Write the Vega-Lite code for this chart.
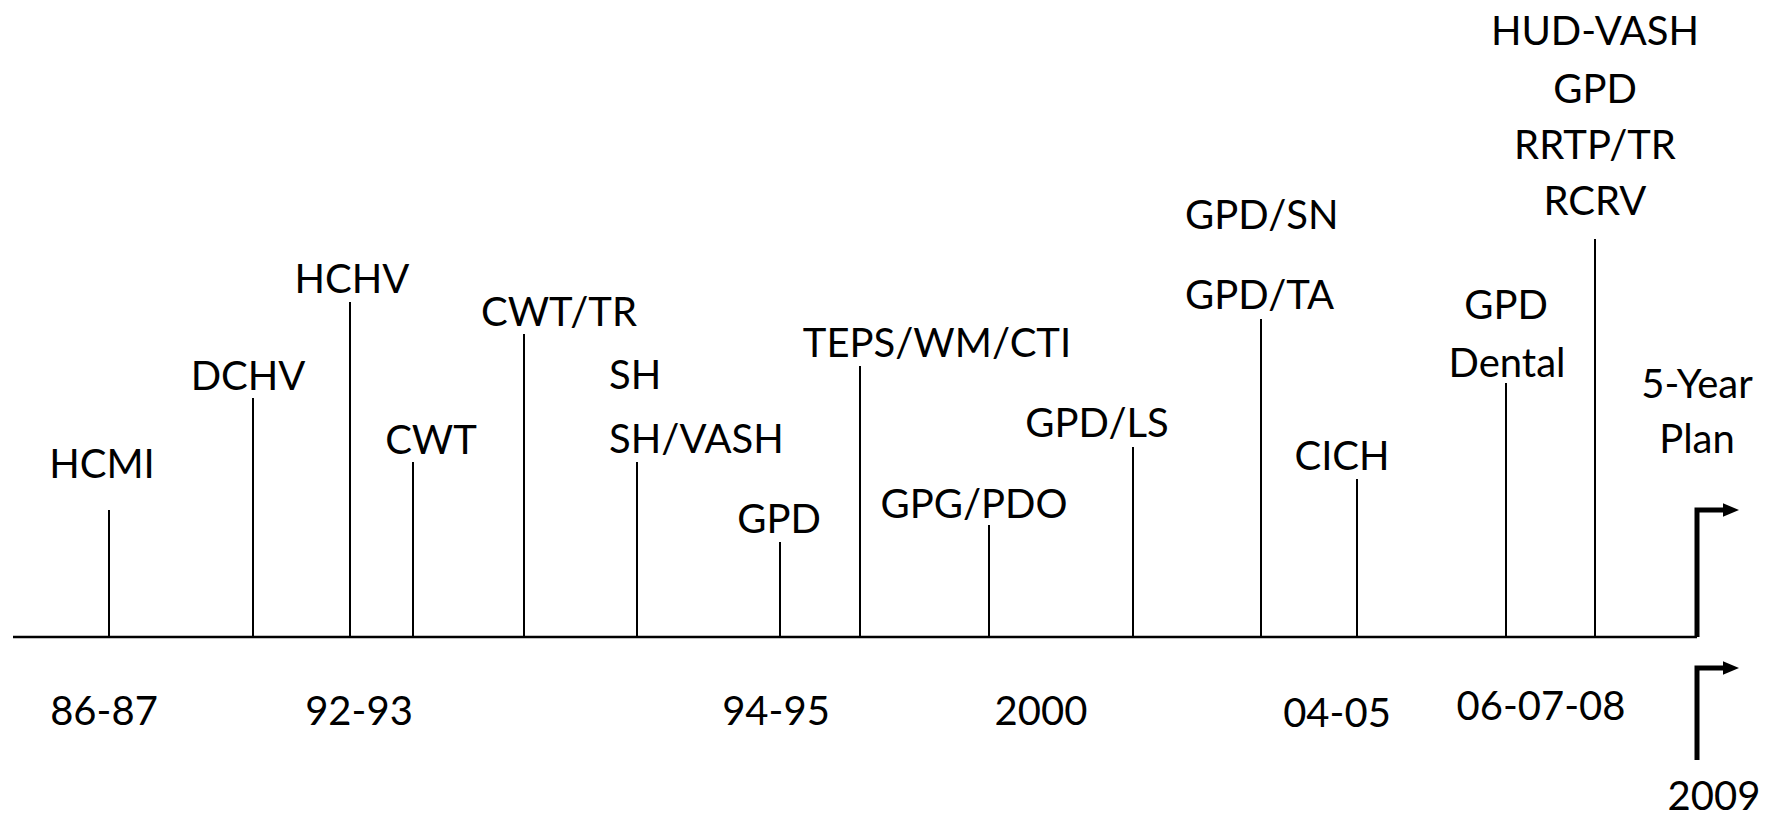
{
  "$schema": "https://vega.github.io/schema/vega-lite/v6.json",
  "width": 1768,
  "height": 821,
  "autosize": {"type": "none"},
  "padding": 0,
  "background": "white",
  "config": {"view": {"stroke": null}},
  "datasets": {
    "stems": [
      {"pos": 109, "base": 0, "top": 127},
      {"pos": 253, "base": 0, "top": 239},
      {"pos": 350, "base": 0, "top": 335},
      {"pos": 413, "base": 0, "top": 175},
      {"pos": 524, "base": 0, "top": 303},
      {"pos": 637, "base": 0, "top": 175},
      {"pos": 780, "base": 0, "top": 95},
      {"pos": 860, "base": 0, "top": 271},
      {"pos": 989, "base": 0, "top": 112},
      {"pos": 1133, "base": 0, "top": 190},
      {"pos": 1261, "base": 0, "top": 318},
      {"pos": 1357, "base": 0, "top": 158},
      {"pos": 1506, "base": 0, "top": 254},
      {"pos": 1595, "base": 0, "top": 398}
    ],
    "labels": [
      {"pos": 102, "h": 159, "text": "HCMI", "anchor": "center"},
      {"pos": 248, "h": 247, "text": "DCHV", "anchor": "center"},
      {"pos": 352, "h": 344, "text": "HCHV", "anchor": "center"},
      {"pos": 431, "h": 183, "text": "CWT", "anchor": "center"},
      {"pos": 559, "h": 311, "text": "CWT/TR", "anchor": "center"},
      {"pos": 609, "h": 248, "text": "SH", "anchor": "left"},
      {"pos": 609, "h": 184, "text": "SH/VASH", "anchor": "left"},
      {"pos": 779, "h": 104, "text": "GPD", "anchor": "center"},
      {"pos": 937, "h": 280, "text": "TEPS/WM/CTI", "anchor": "center"},
      {"pos": 974, "h": 119, "text": "GPG/PDO", "anchor": "center"},
      {"pos": 1097, "h": 200, "text": "GPD/LS", "anchor": "center"},
      {"pos": 1185, "h": 408, "text": "GPD/SN", "anchor": "left"},
      {"pos": 1185, "h": 328, "text": "GPD/TA", "anchor": "left"},
      {"pos": 1342, "h": 167, "text": "CICH", "anchor": "center"},
      {"pos": 1506, "h": 318, "text": "GPD", "anchor": "center"},
      {"pos": 1507, "h": 260, "text": "Dental", "anchor": "center"},
      {"pos": 1595, "h": 592, "text": "HUD-VASH", "anchor": "center"},
      {"pos": 1595, "h": 534, "text": "GPD", "anchor": "center"},
      {"pos": 1595, "h": 478, "text": "RRTP/TR", "anchor": "center"},
      {"pos": 1595, "h": 422, "text": "RCRV", "anchor": "center"},
      {"pos": 1697, "h": 239, "text": "5-Year", "anchor": "center"},
      {"pos": 1697, "h": 184, "text": "Plan", "anchor": "center"},
      {"pos": 104, "h": -88, "text": "86-87", "anchor": "center"},
      {"pos": 359, "h": -88, "text": "92-93", "anchor": "center"},
      {"pos": 776, "h": -88, "text": "94-95", "anchor": "center"},
      {"pos": 1041, "h": -88, "text": "2000", "anchor": "center"},
      {"pos": 1337, "h": -90, "text": "04-05", "anchor": "center"},
      {"pos": 1541, "h": -83, "text": "06-07-08", "anchor": "center"},
      {"pos": 1714, "h": -173, "text": "2009", "anchor": "center"}
    ],
    "axisline": [{"x1": 13, "x2": 1697, "h": 0}],
    "arrows": [
      {"id": "a", "ord": 1, "pos": 1697, "h": 0},
      {"id": "a", "ord": 2, "pos": 1697, "h": 127},
      {"id": "a", "ord": 3, "pos": 1726, "h": 127},
      {"id": "b", "ord": 1, "pos": 1697, "h": -123},
      {"id": "b", "ord": 2, "pos": 1697, "h": -31},
      {"id": "b", "ord": 3, "pos": 1726, "h": -31}
    ],
    "heads": [
      {"pos": 1731, "h": 127},
      {"pos": 1731, "h": -31}
    ]
  },
  "layer": [
    {
      "data": {"name": "axisline"},
      "mark": {"type": "rule", "color": "black", "strokeWidth": 2.5},
      "encoding": {
        "x": {"field": "x1", "type": "quantitative", "scale": {"domain": [0, 1768]}, "axis": null},
        "x2": {"field": "x2"},
        "y": {"field": "h", "type": "quantitative", "scale": {"domain": [-184, 637]}, "axis": null}
      }
    },
    {
      "data": {"name": "stems"},
      "mark": {"type": "rule", "color": "black", "strokeWidth": 2},
      "encoding": {
        "x": {"field": "pos", "type": "quantitative", "scale": {"domain": [0, 1768]}, "axis": null},
        "y": {"field": "base", "type": "quantitative", "scale": {"domain": [-184, 637]}, "axis": null},
        "y2": {"field": "top"}
      }
    },
    {
      "data": {"name": "arrows"},
      "mark": {"type": "line", "color": "black", "strokeWidth": 5, "strokeJoin": "miter", "strokeCap": "butt"},
      "encoding": {
        "x": {"field": "pos", "type": "quantitative", "scale": {"domain": [0, 1768]}, "axis": null},
        "y": {"field": "h", "type": "quantitative", "scale": {"domain": [-184, 637]}, "axis": null},
        "detail": {"field": "id", "type": "nominal"},
        "order": {"field": "ord", "type": "quantitative"}
      }
    },
    {
      "data": {"name": "heads"},
      "mark": {"type": "point", "shape": "M -1 -0.85 L 1 0 L -1 0.85 Z", "filled": true, "color": "black", "opacity": 1, "size": 256},
      "encoding": {
        "x": {"field": "pos", "type": "quantitative", "scale": {"domain": [0, 1768]}, "axis": null},
        "y": {"field": "h", "type": "quantitative", "scale": {"domain": [-184, 637]}, "axis": null}
      }
    },
    {
      "data": {"name": "labels"},
      "transform": [{"filter": "datum.anchor == 'center'"}],
      "mark": {"type": "text", "font": "Lato", "fontSize": 40, "color": "black", "align": "center", "baseline": "alphabetic"},
      "encoding": {
        "x": {"field": "pos", "type": "quantitative", "scale": {"domain": [0, 1768]}, "axis": null},
        "y": {"field": "h", "type": "quantitative", "scale": {"domain": [-184, 637]}, "axis": null},
        "text": {"field": "text", "type": "nominal"}
      }
    },
    {
      "data": {"name": "labels"},
      "transform": [{"filter": "datum.anchor == 'left'"}],
      "mark": {"type": "text", "font": "Lato", "fontSize": 40, "color": "black", "align": "left", "baseline": "alphabetic"},
      "encoding": {
        "x": {"field": "pos", "type": "quantitative", "scale": {"domain": [0, 1768]}, "axis": null},
        "y": {"field": "h", "type": "quantitative", "scale": {"domain": [-184, 637]}, "axis": null},
        "text": {"field": "text", "type": "nominal"}
      }
    }
  ]
}
